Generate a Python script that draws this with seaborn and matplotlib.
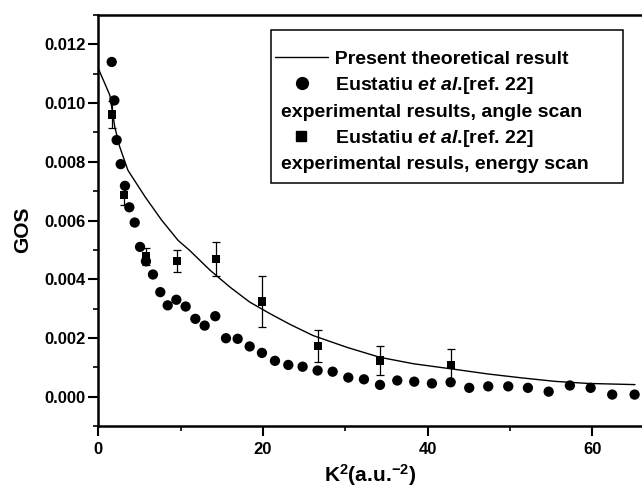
import numpy as np
import pandas as pd
import matplotlib
matplotlib.use("Agg")
import matplotlib.pyplot as plt
import seaborn as sns
from matplotlib.lines import Line2D
from matplotlib.legend_handler import HandlerBase
from matplotlib.ticker import MultipleLocator, FormatStrFormatter
from matplotlib.font_manager import FontProperties

# ---------------- data ----------------
theory_k2 = [0.0, 1.4, 2.0, 2.6, 3.6, 5.7, 7.7, 9.7, 11.1, 13.6, 16.0, 18.4,
             20.9, 23.3, 26.1, 30.2, 34.2, 38.3, 43.3, 47.4, 51.4, 55.5, 59.5, 65.2]
theory_gos = [0.01118, 0.01027, 0.00919, 0.00851, 0.00771, 0.00680, 0.00601,
              0.00532, 0.00498, 0.00430, 0.00373, 0.00322, 0.00282, 0.00246,
              0.00208, 0.00168, 0.00134, 0.00112, 0.00093, 0.00077, 0.00064,
              0.00052, 0.00045, 0.00041]

angle_k2 = [1.63, 1.95, 2.23, 2.72, 3.24, 3.77, 4.42, 5.07, 5.79, 6.64, 7.53,
            8.43, 9.48, 10.61, 11.79, 12.92, 14.21, 15.51, 16.93, 18.39, 19.88,
            21.46, 23.08, 24.82, 26.64, 28.47, 30.37, 32.27, 34.22, 36.32,
            38.38, 40.53, 42.80, 45.06, 47.37, 49.80, 52.19, 54.71, 57.29,
            59.81, 62.43, 65.15]
angle_gos = [0.01140, 0.01009, 0.00874, 0.00792, 0.00718, 0.00645, 0.00593,
             0.00510, 0.00461, 0.00416, 0.00356, 0.00311, 0.00330, 0.00307,
             0.00265, 0.00242, 0.00274, 0.00199, 0.00197, 0.00171, 0.00149,
             0.00122, 0.00108, 0.00102, 0.00089, 0.00085, 0.00065, 0.00059,
             0.00040, 0.00055, 0.00051, 0.00045, 0.00049, 0.00030, 0.00035,
             0.00035, 0.00030, 0.00017, 0.00038, 0.00030, 0.00007, 0.00007]

energy_k2 = [1.63, 3.16, 5.79, 9.56, 14.26, 19.92, 26.64, 34.22, 42.84]
energy_gos = [0.00961, 0.00688, 0.00478, 0.00462, 0.00469, 0.00324, 0.00172,
              0.00123, 0.00107]
energy_err = [0.00045, 0.00034, 0.00028, 0.00039, 0.00057, 0.00088, 0.00055,
              0.00050, 0.00054]

x_ticks = [0, 20, 40, 60]
y_ticks = [0.000, 0.002, 0.004, 0.006, 0.008, 0.010, 0.012]

label_theory = "Present theoretical result"
label_ref = r"Eustatiu $\mathit{et\ al}$.[ref. 22]"
label_angle = "experimental results, angle scan"
label_energy = "experimental resuls, energy scan"
x_label = r"K$^{2}$(a.u.$^{-2}$)"
y_label = "GOS"

# ---------------- style ----------------
sns.set_style("ticks")
plt.rcParams.update({
    "font.family": ["Liberation Sans", "DejaVu Sans"],
    "font.weight": "bold",
    "mathtext.fontset": "custom",
    "mathtext.rm": "Liberation Sans:bold",
    "mathtext.bf": "Liberation Sans:bold",
    "mathtext.it": "Liberation Sans:italic:bold",
    "mathtext.default": "rm",
    "axes.edgecolor": "black",
    "axes.labelcolor": "black",
    "text.color": "black",
    "xtick.color": "black",
    "ytick.color": "black",
    "axes.linewidth": 1.8,
})

fig = plt.figure(figsize=(6.42, 4.94), dpi=100)
ax = fig.add_axes([98.3 / 642, 1 - 426 / 494, 543.3 / 642, 411 / 494])

theory_df = pd.DataFrame({"k2": theory_k2, "gos": theory_gos})
angle_df = pd.DataFrame({"k2": angle_k2, "gos": angle_gos})
energy_df = pd.DataFrame({"k2": energy_k2, "gos": energy_gos, "err": energy_err})

sns.lineplot(data=theory_df, x="k2", y="gos", color="black", linewidth=1.0,
             ax=ax, zorder=2)
sns.scatterplot(data=angle_df, x="k2", y="gos", marker="o", s=55,
                color="black", edgecolor="none", linewidth=0, ax=ax, zorder=3)
ax.errorbar(energy_df["k2"], energy_df["gos"], yerr=energy_df["err"],
            fmt="none", ecolor="black", elinewidth=0.9, capsize=3,
            capthick=0.9, zorder=3)
sns.scatterplot(data=energy_df, x="k2", y="gos", marker="s", s=34,
                color="black", edgecolor="none", linewidth=0, ax=ax, zorder=4)

ax.set_xlim(0, 66)
ax.set_ylim(-0.001, 0.013)
ax.set_xticks(x_ticks)
ax.set_yticks(y_ticks)
ax.xaxis.set_minor_locator(MultipleLocator(10))
ax.yaxis.set_minor_locator(MultipleLocator(0.001))
ax.yaxis.set_major_formatter(FormatStrFormatter("%.3f"))
ax.tick_params(axis="both", which="major", direction="out", length=7.5,
               width=1.5, labelsize=12)
ax.tick_params(axis="both", which="minor", direction="out", length=3.5,
               width=1.2)
ax.tick_params(axis="y", which="major", pad=1.5)
ax.tick_params(axis="x", which="major", pad=4)
for lab in ax.get_xticklabels() + ax.get_yticklabels():
    lab.set_fontweight("bold")

ax.spines["right"].set_visible(False)
for s in ["left", "bottom", "top"]:
    ax.spines[s].set_linewidth(1.8)

ax.set_xlabel(x_label, fontsize=15, fontweight="bold")
ax.set_ylabel(y_label, fontsize=15, fontweight="bold")
ax.xaxis.set_label_coords(0.5, -0.088)
ax.yaxis.set_label_coords(-0.122, 0.477)


# ---------------- legend (Origin-style layout) ----------------
class PlacedHandler(HandlerBase):
    def __init__(self, x0, x1=None):
        super().__init__()
        self.x0, self.x1 = x0, x1

    def create_artists(self, legend, orig_handle, xdescent, ydescent, width,
                       height, fontsize, trans):
        yc = (height - ydescent) / 2
        if self.x1 is not None:
            art = Line2D([self.x0, self.x1], [yc, yc],
                         color=orig_handle.get_color(),
                         linewidth=orig_handle.get_linewidth())
        else:
            art = Line2D([self.x0], [yc], linestyle="none",
                         marker=orig_handle.get_marker(),
                         markersize=orig_handle.get_markersize(),
                         color=orig_handle.get_color())
        art.set_transform(trans)
        return [art]


class BlankHandler(HandlerBase):
    def create_artists(self, legend, orig_handle, xdescent, ydescent, width,
                       height, fontsize, trans):
        art = Line2D([], [])
        art.set_visible(False)
        return [art]


h_line = Line2D([], [], color="black", linewidth=1.0)
h_circ = Line2D([], [], color="black", marker="o", markersize=8.5,
                linestyle="none")
h_blank1 = Line2D([], [])
h_sq = Line2D([], [], color="black", marker="s", markersize=6.5,
              linestyle="none")
h_blank2 = Line2D([], [])

pad_sp = " " * 10
handles = [h_line, h_circ, h_blank1, h_sq, h_blank2]
labels = [pad_sp + label_theory, pad_sp + label_ref, label_angle,
          pad_sp + label_ref, label_energy]
hmap = {
    h_line: PlacedHandler(-4.0, 34.1),
    h_circ: PlacedHandler(15.4),
    h_blank1: BlankHandler(),
    h_sq: PlacedHandler(15.0),
    h_blank2: BlankHandler(),
}

x0 = (271 - 98.3) / 543.3
wl = (623 - 271) / 543.3
ytop = (426 - 30) / 411
leg = ax.legend(handles, labels, handler_map=hmap, loc="upper left",
                bbox_to_anchor=(x0, ytop, wl, 0), mode="expand",
                borderaxespad=0, borderpad=0.495, labelspacing=0.36,
                handlelength=0.01, handletextpad=0.026,
                title=" ", title_fontsize=2,
                prop=FontProperties(family="Liberation Sans", weight="bold",
                                    size=14),
                frameon=True, fancybox=False, edgecolor="black",
                framealpha=1, facecolor="white")
leg.get_frame().set_linewidth(1.1)

fig.savefig("out.png", dpi=100, facecolor="white")
